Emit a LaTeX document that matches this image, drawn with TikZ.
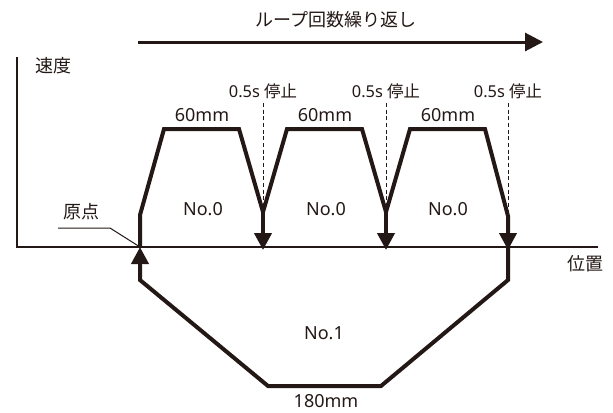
\documentclass[tikz,border=0pt]{standalone}
\usepackage{fontspec}
\setmainfont{Noto Sans}
\newfontfamily\jp{Noto Sans CJK JP}
\usetikzlibrary{arrows.meta}
\definecolor{ink}{HTML}{231815}
\begin{document}
\begin{tikzpicture}[x=0.75pt,y=-0.75pt,
  prof/.style={draw=ink,line width=3pt,line join=miter},
  axisline/.style={draw=ink,line width=1.5pt},
  downarr/.style={draw=ink,line width=3pt,-{Triangle[length=12.75pt,width=12.75pt]}},
  loopline/.style={draw=ink,line width=2.25pt,-{Triangle[length=13.5pt,width=13.5pt]}},
  stopline/.style={draw=ink,line width=0.75pt,dash pattern=on 3pt off 2pt},
  leader/.style={draw=ink,line width=0.75pt},
  big/.style={text=ink,inner sep=0pt,font=\fontsize{13.5}{16}\selectfont},
  small/.style={text=ink,inner sep=0pt,font=\fontsize{12.3}{14}\selectfont}]
\useasboundingbox (0,0) rectangle (613,412);
% axes
\coordinate (o) at (17,247);
\coordinate (ytop) at (17,57);
\coordinate (xend) at (598,247);
\draw[axisline] (ytop) -- (o) -- (xend);
% loop arrow
\coordinate (la) at (138,42);
\coordinate (lb) at (543,42);
\draw[loopline] (la) -- (lb);
% profile points
\coordinate (s0) at (140,247);
\coordinate (s1) at (140,215);
\coordinate (a1) at (164,129);
\coordinate (a2) at (239,129);
\coordinate (v1) at (263,212);
\coordinate (b1) at (287,129);
\coordinate (b2) at (362,129);
\coordinate (v2) at (386,212);
\coordinate (c1) at (410,129);
\coordinate (c2) at (485,129);
\coordinate (v3) at (508,216);
\coordinate (r1) at (508,280);
\coordinate (d2) at (381,386);
\coordinate (d1) at (268,386);
\coordinate (l1) at (140,280);
\coordinate (l0) at (140,265);
\draw[prof] (s0) -- (s1) -- (a1) -- (a2) -- (v1) -- (b1) -- (b2) -- (v2) -- (c1) -- (c2) -- (v3) -- (r1) -- (d2) -- (d1) -- (l1) -- (l0);
% arrows at axis
\coordinate (t1) at (263,250);
\coordinate (t2) at (386,250);
\coordinate (t3) at (508,250);
\coordinate (t0) at (140,247);
\draw[downarr] (v1) -- (t1);
\draw[downarr] (v2) -- (t2);
\draw[downarr] (v3) -- (t3);
\draw[downarr] (l1) -- (t0);
% dashed stop lines
\coordinate (q1) at (263,103);
\coordinate (q2) at (386,103);
\coordinate (q3) at (508,103);
\draw[stopline] (q1) -- (v1);
\draw[stopline] (q2) -- (v2);
\draw[stopline] (q3) -- (v3);
% leader for origin
\coordinate (g0) at (58,228);
\coordinate (g1) at (110,228);
\draw[leader] (g0) -- (g1) -- (s0);
% texts
\node[big] (loop) at (336,20) {\jp ループ回数繰り返し};
\node[big] (speed) at (53,66) {\jp 速度};
\node[big] (pos) at (585,264) {\jp 位置};
\node[big] (origin) at (81,212) {\jp 原点};
\node[small] (st1) at (263,91) {0.5s \jp 停止};
\node[small] (st2) at (386,91) {0.5s \jp 停止};
\node[small] (st3) at (508,91) {0.5s \jp 停止};
\node[big] (m1) at (202,115) {60mm};
\node[big] (m2) at (325,115) {60mm};
\node[big] (m3) at (448,115) {60mm};
\node[big] (n1) at (203,209) {No.0};
\node[big] (n2) at (326,209) {No.0};
\node[big] (n3) at (448,209) {No.0};
\node[big] (n4) at (324,333) {No.1};
\node[big] (m4) at (326,401) {180mm};
\end{tikzpicture}
\end{document}
